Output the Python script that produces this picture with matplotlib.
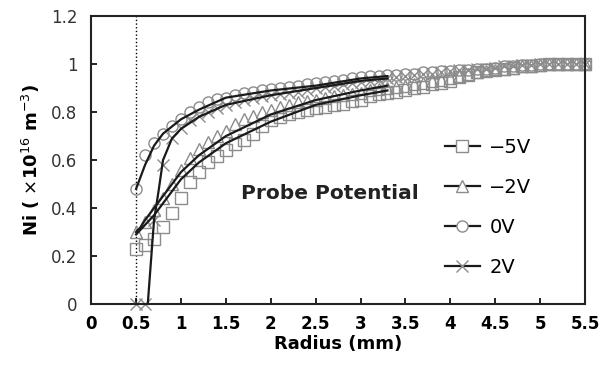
import numpy as np
import matplotlib
matplotlib.use("Agg")
import matplotlib.pyplot as plt
from matplotlib.lines import Line2D

# radius positions (mm) of the measured points
radius = [round(0.5 + 0.1 * i, 1) for i in range(51)]

ni_m5 = [0.23, 0.245, 0.27, 0.32, 0.38, 0.44, 0.51, 0.55, 0.59, 0.615,
         0.64, 0.665, 0.685, 0.71, 0.74, 0.765, 0.78, 0.79, 0.80, 0.81,
         0.815, 0.82, 0.83, 0.835, 0.845, 0.85, 0.865, 0.875, 0.88, 0.885,
         0.89, 0.90, 0.905, 0.915, 0.92, 0.93, 0.945, 0.955, 0.965, 0.975,
         0.98, 0.98, 0.985, 0.99, 0.99, 0.995, 1.0, 1.0, 1.0, 1.0, 1.0]
ni_m2 = [0.30, 0.34, 0.39, 0.44, 0.50, 0.56, 0.61, 0.645, 0.675, 0.70,
         0.72, 0.75, 0.77, 0.785, 0.80, 0.81, 0.82, 0.83, 0.84, 0.845,
         0.85, 0.86, 0.865, 0.87, 0.875, 0.88, 0.89, 0.895, 0.90, 0.905,
         0.91, 0.915, 0.92, 0.93, 0.935, 0.94, 0.95, 0.96, 0.965, 0.97,
         0.975, 0.98, 0.985, 0.99, 0.99, 0.995, 1.0, 1.0, 1.0, 1.0, 1.0]
ni_0 = [0.48, 0.62, 0.67, 0.71, 0.74, 0.77, 0.80, 0.82, 0.84, 0.855,
        0.86, 0.87, 0.88, 0.885, 0.89, 0.895, 0.90, 0.905, 0.91, 0.915,
        0.92, 0.925, 0.93, 0.935, 0.94, 0.945, 0.95, 0.95, 0.955, 0.955,
        0.96, 0.96, 0.965, 0.965, 0.97, 0.97, 0.975, 0.975, 0.98, 0.98,
        0.985, 0.99, 0.99, 0.995, 0.995, 1.0, 1.0, 1.0, 1.0, 1.0, 1.0]
ni_p2 = [0.0, 0.0, 0.35, 0.58, 0.69, 0.735, 0.765, 0.785, 0.80, 0.815,
         0.83, 0.84, 0.85, 0.86, 0.865, 0.87, 0.875, 0.88, 0.885, 0.89,
         0.90, 0.905, 0.91, 0.915, 0.92, 0.925, 0.93, 0.935, 0.94, 0.945,
         0.95, 0.955, 0.96, 0.96, 0.965, 0.97, 0.975, 0.975, 0.98, 0.98,
         0.985, 0.99, 0.99, 0.995, 0.995, 1.0, 1.0, 1.0, 1.0, 1.0, 1.0]

# black lines, they stop at about 3.3 mm
line_r = [0.5, 0.55, 0.6, 0.7, 0.8, 0.9, 1.0, 1.2, 1.5, 2.0, 2.5, 3.0, 3.3]
line_m5 = [0.29, 0.31, 0.33, 0.37, 0.42, 0.47, 0.52, 0.59, 0.67, 0.76, 0.83, 0.87, 0.89]
line_m2 = [0.30, 0.32, 0.35, 0.40, 0.45, 0.50, 0.55, 0.62, 0.70, 0.79, 0.85, 0.89, 0.91]
line_0 = [0.48, 0.53, 0.58, 0.66, 0.71, 0.74, 0.77, 0.81, 0.86, 0.89, 0.91, 0.94, 0.95]
line_p2_r = [0.63, 0.7, 0.75, 0.8, 0.9, 1.0, 1.2, 1.5, 2.0, 2.5, 3.0, 3.3]
line_p2 = [0.0, 0.35, 0.47, 0.60, 0.69, 0.73, 0.78, 0.83, 0.87, 0.90, 0.93, 0.94]

labels = ["\u22125V", "\u22122V", "0V", "2V"]
markers = ["s", "^", "o", "x"]
msizes = [8.5, 8, 8, 9]
series = [ni_m5, ni_m2, ni_0, ni_p2]
lines = [(line_r, line_m5), (line_r, line_m2), (line_r, line_0), (line_p2_r, line_p2)]
mk_col = "#8c8c8c"

fig = plt.figure(figsize=(6, 3.74), dpi=100)
ax = fig.add_axes([0.152, 0.187, 0.823, 0.770])

for vals, m, ms in zip(series, markers, msizes):
    ax.plot(radius, vals, linestyle="none", marker=m, markersize=ms,
            markerfacecolor="none", markeredgecolor=mk_col, markeredgewidth=1.0,
            clip_on=False, zorder=2)

for lr, lv in lines:
    ax.plot(lr, lv, color="#1a1a1a", lw=1.6, zorder=3)

ax.axvline(0.5, color="black", ls=":", lw=1.0, zorder=1)

ax.set_xlim(0, 5.5)
ax.set_ylim(0, 1.2)
ax.set_xticks(np.arange(0, 5.51, 0.5))
ax.set_xticklabels(["0", "0.5", "1", "1.5", "2", "2.5", "3", "3.5", "4", "4.5", "5", "5.5"],
                   fontsize=12, fontweight="bold")
ax.set_yticks(np.arange(0, 1.21, 0.2))
ax.set_yticklabels(["0", "0.2", "0.4", "0.6", "0.8", "1", "1.2"], fontsize=12, color="#333333")
ax.tick_params(direction="in", length=4, width=1.2, pad=8)
ax.tick_params(axis="y", pad=10)
for s in ax.spines.values():
    s.set_linewidth(1.5)
    s.set_color("#222222")

ax.set_xlabel("Radius (mm)", fontsize=13, fontweight="bold", labelpad=1)
ax.set_ylabel(r"Ni ( $\times$10$^{16}$ m$^{-3}$)", fontsize=13, fontweight="bold", labelpad=6)

ax.text(0.304, 0.385, "Probe Potential", transform=ax.transAxes, fontsize=14.5,
        fontweight="bold", color="#222222", va="center", ha="left")

handles = [Line2D([], [], color="#1a1a1a", lw=1.6, marker=m, markersize=ms,
                  markerfacecolor="white", markeredgecolor=mk_col, markeredgewidth=1.0)
           for m, ms in zip(markers, msizes)]
ax.legend(handles, labels, loc="upper left", bbox_to_anchor=(0.70, 0.605),
          frameon=False, fontsize=14, labelspacing=1.08, handlelength=1.8,
          handletextpad=0.5, borderaxespad=0)

fig.savefig("out.png", dpi=100)
